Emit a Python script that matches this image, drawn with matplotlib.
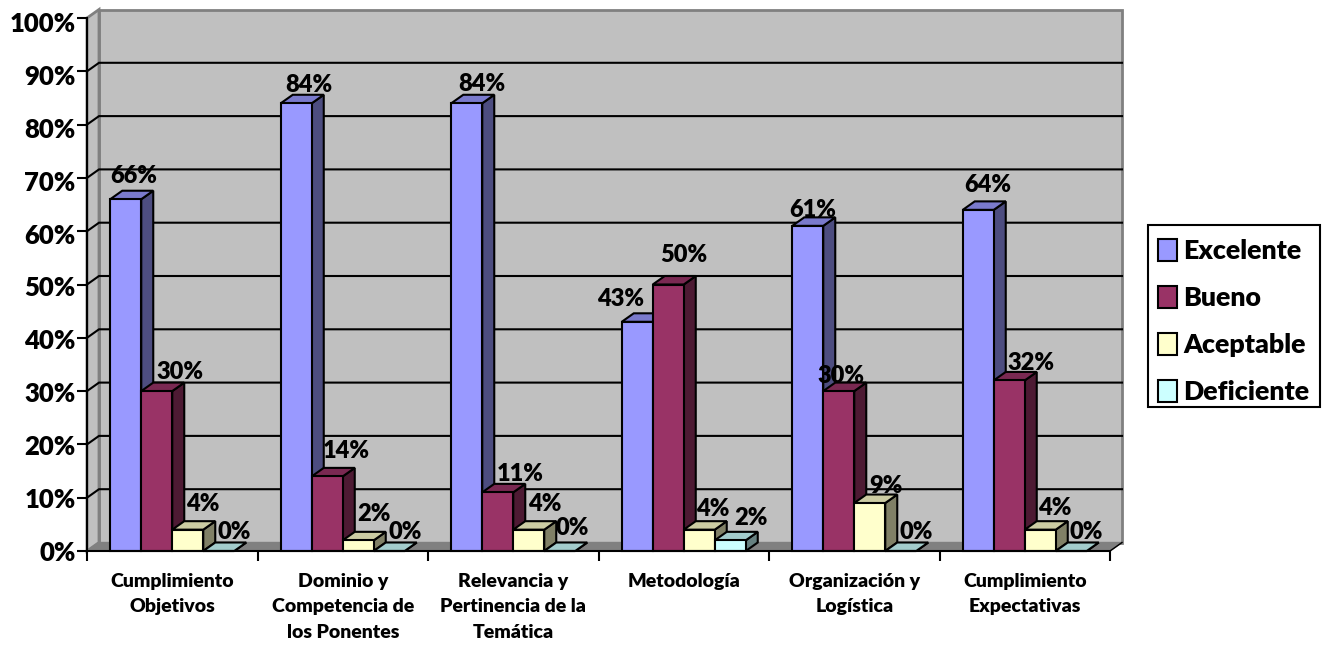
import matplotlib
matplotlib.use("Agg")
import matplotlib.pyplot as plt
from matplotlib.patches import Polygon, Patch, Rectangle
from matplotlib.transforms import ScaledTranslation

categories = ["Cumplimiento\nObjetivos", "Dominio y\nCompetencia de\nlos Ponentes",
              "Relevancia y\nPertinencia de la\nTemática", "Metodología",
              "Organización y\nLogística", "Cumplimiento\nExpectativas"]
series_names = ["Excelente", "Bueno", "Aceptable", "Deficiente"]
excelente = [66, 84, 84, 43, 61, 64]
bueno = [30, 14, 11, 50, 30, 32]
aceptable = [4, 2, 4, 4, 9, 4]
deficiente = [0, 0, 0, 2, 0, 0]
series_values = [excelente, bueno, aceptable, deficiente]

front = ["#9999FF", "#993366", "#FFFFCC", "#CCFFFF"]
side = ["#4D4D80", "#4D1A33", "#808066", "#668080"]
top = ["#7A7ACC", "#7A2952", "#CCCCA3", "#A3CCCC"]

# label centres in figure pixels, manually placed in the reference
label_px = [
    [(134, 176), (309, 85), (482, 84), (621, 299), (813, 210), (988, 185)],
    [(180, 372), (346, 451), (520, 474), (684, 255), (841, 376), (1031, 363)],
    [(203, 504), (374, 514), (545, 504), (713, 509), (886, 486), (1055, 508)],
    [(234, 532), (405, 532), (572, 528), (751, 518), (916, 532), (1086, 532)],
]

W, H = 1326, 648
X0, X1, Y0, Y1 = 87, 1110, 551, 18
HEAVY = "heavy"
plt.rcParams["font.family"] = ["Lato", "DejaVu Sans"]
plt.rcParams["font.weight"] = HEAVY
fig = plt.figure(figsize=(W / 100, H / 100), dpi=100, facecolor="white")
ax = fig.add_axes([X0 / W, 1 - Y0 / H, (X1 - X0) / W, (Y0 - Y1) / H])
ax.set_xlim(0, 6)
ax.set_ylim(0, 100)
ax.patch.set_visible(False)
px = 6 / (X1 - X0)
py = 100 / (Y0 - Y1)
dx, dy = 12 * px, 8.5 * py
LW = 1.5
GRAY = "#808080"
WALL = "#C0C0C0"

# walls and floor
ax.add_patch(Polygon([(dx, dy), (6 + dx, dy), (6 + dx, 100 + dy), (dx, 100 + dy)], closed=True,
                     fc=WALL, ec=GRAY, lw=2, clip_on=False, zorder=0.5))
ax.add_patch(Polygon([(0, 0), (dx, dy), (dx, 100 + dy), (0, 100)], closed=True,
                     fc=WALL, ec=GRAY, lw=2, clip_on=False, zorder=0.6))
ax.add_patch(Polygon([(0, 0), (6, 0), (6 + dx, dy), (dx, dy)], closed=True,
                     fc=GRAY, ec=GRAY, lw=1, clip_on=False, zorder=0.7))
for v in range(10, 100, 10):
    ax.plot([0, dx, 6 + dx], [v, v + dy, v + dy], color="black", lw=LW, clip_on=False,
            zorder=1, solid_joinstyle="miter")
ax.plot([6, 6 + dx], [0, dy], color="black", lw=1, clip_on=False, zorder=1)

# bars
bw = 1 / 5.5
for s, vals in enumerate(series_values):
    xs = [i + 0.75 * bw + s * bw for i in range(6)]
    ax.bar(xs, vals, width=bw, align="edge", color=front[s], edgecolor="black", linewidth=LW,
           zorder=11 + 2 * s, label=series_names[s], clip_on=False)
    for x, v in zip(xs, vals):
        ax.add_patch(Polygon([(x + bw, 0), (x + bw + dx, dy), (x + bw + dx, v + dy), (x + bw, v)],
                             closed=True, fc=side[s], ec="black", lw=LW, clip_on=False, zorder=10 + 2 * s))
        ax.add_patch(Polygon([(x, v), (x + bw, v), (x + bw + dx, v + dy), (x + dx, v + dy)],
                             closed=True, fc=top[s], ec="black", lw=LW, clip_on=False, zorder=10 + 2 * s))
    for v, (lx, ly) in zip(vals, label_px[s]):
        ax.text((lx - X0) * px, (Y0 - ly) * py, f"{v}%", ha="center", va="center",
                fontsize=17, fontweight=HEAVY, color="black", zorder=50, clip_on=False)

# axes
for name in ("top", "right"):
    ax.spines[name].set_visible(False)
for name in ("left", "bottom"):
    ax.spines[name].set_linewidth(LW)
    ax.spines[name].set_zorder(40)
ytick_values = list(range(0, 101, 10))
ax.set_yticks(ytick_values)
ax.set_yticklabels([f"{v}%" for v in ytick_values], fontsize=18.5, fontweight=HEAVY)
ax.tick_params(axis="y", length=7.2, width=LW, pad=1)
for v, lab in zip(ytick_values, ax.get_yticklabels()):
    lab.set_transform(lab.get_transform() + ScaledTranslation(0, -4 * v / 100 / 100, fig.dpi_scale_trans))
ax.set_xticks(range(0, 7), minor=True)
ax.set_xticks([i + 0.5 for i in range(6)])
ax.set_xticklabels(categories, fontsize=14, fontweight=HEAVY, linespacing=1.62)
ax.tick_params(axis="x", which="major", length=0, pad=15.5)
ax.tick_params(axis="x", which="minor", length=7.2, width=LW)

# legend: frame box and entries placed separately
fig.add_artist(Rectangle((1148 / W, 1 - 407 / H), 172 / W, 182 / H, transform=fig.transFigure,
                         fc="white", ec="black", lw=LW, zorder=5))
leg = ax.legend(
    handles=[Patch(fc=front[i], ec="black", lw=LW, label=series_names[i]) for i in range(4)],
    loc="upper left", bbox_to_anchor=(1158 / W, 1 - 239 / H), bbox_transform=fig.transFigure,
    prop={"family": "Lato", "weight": HEAVY, "size": 19.3}, frameon=False,
    handlelength=0.72, handleheight=0.9, handletextpad=0.22,
    labelspacing=0.84, borderpad=0, borderaxespad=0)
leg.set_zorder(60)
ax.set_zorder(6)

fig.savefig("out.png", dpi=100, facecolor="white")
